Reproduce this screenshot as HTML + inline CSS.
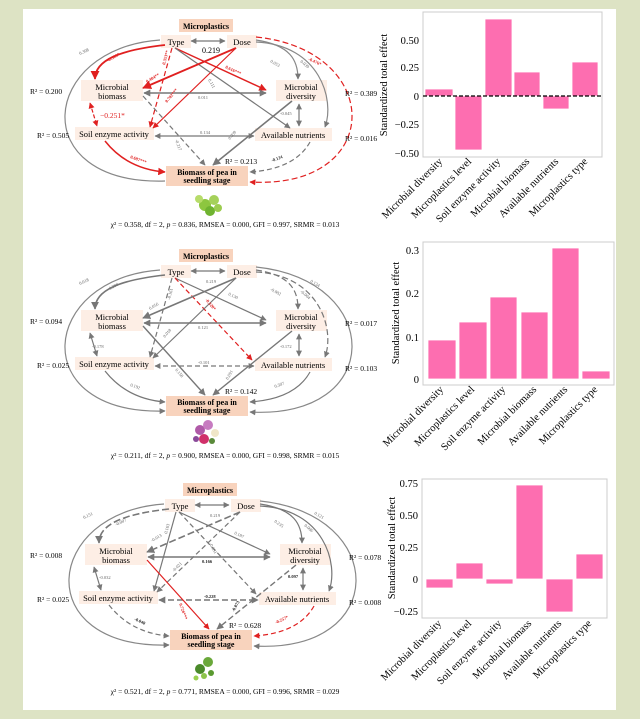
<!DOCTYPE html>
<html><head><meta charset="utf-8"><style>
body{margin:0;width:640px;height:719px;background:#dde3c4;overflow:hidden}
svg{display:block;font-family:"Liberation Serif",serif}
</style></head><body>
<svg width="640" height="719" viewBox="0 0 640 719">
<defs>
<marker id="g" viewBox="0 0 10 10" refX="9" refY="5" markerWidth="5" markerHeight="5" orient="auto-start-reverse"><path d="M0,0L10,5L0,10z" fill="#777"/></marker>
<marker id="r" viewBox="0 0 10 10" refX="9" refY="5" markerWidth="5" markerHeight="5" orient="auto-start-reverse"><path d="M0,0L10,5L0,10z" fill="#e02020"/></marker>
</defs>
<rect x="0" y="0" width="640" height="719" fill="#dde3c4"/>
<rect x="23" y="9" width="593" height="701" fill="#fff"/>

<!-- ========== Diagram 1 ========== -->
<g id="d1">
<rect x="179" y="19" width="54" height="13" fill="#f8d3bd"/>
<text x="206" y="29" font-size="8" font-weight="bold" text-anchor="middle">Microplastics</text>
<rect x="161" y="35" width="30" height="13" fill="#fdeee5"/><text x="176" y="45" font-size="8.5" text-anchor="middle">Type</text>
<rect x="227" y="35" width="30" height="13" fill="#fdeee5"/><text x="242" y="45" font-size="8.5" text-anchor="middle">Dose</text>
<rect x="81" y="80" width="62" height="21" fill="#fdeee5"/><text x="112" y="90" font-size="8.5" text-anchor="middle">Microbial</text><text x="112" y="99" font-size="8.5" text-anchor="middle">biomass</text>
<rect x="276" y="80" width="51" height="21" fill="#fdeee5"/><text x="301" y="90" font-size="8.5" text-anchor="middle">Microbial</text><text x="301" y="99" font-size="8.5" text-anchor="middle">diversity</text>
<rect x="75" y="127" width="79" height="13" fill="#fdeee5"/><text x="114" y="137" font-size="8.5" text-anchor="middle">Soil enzyme activity</text>
<rect x="255" y="128" width="77" height="13" fill="#fdeee5"/><text x="293" y="138" font-size="8.5" text-anchor="middle">Available nutrients</text>
<rect x="166" y="166" width="82" height="20" fill="#f8d3bd"/><text x="207" y="175" font-size="8" font-weight="bold" text-anchor="middle">Biomass of pea in</text><text x="207" y="183" font-size="8" font-weight="bold" text-anchor="middle">seedling stage</text>
<g fill="none" stroke-width="1.2">
<path d="M191,41H225" stroke="#777" marker-start="url(#g)" marker-end="url(#g)"/>
<path d="M160,40C40,48 25,185 165,181" stroke="#888"/>
<path d="M256,37C385,50 385,190 250,182" stroke="#e02020" stroke-dasharray="6,3" marker-end="url(#r)"/>
<path d="M256,42C320,45 335,100 325,127" stroke="#888" marker-end="url(#g)"/>
<path d="M256,40C290,45 298,60 298,79" stroke="#888" marker-end="url(#g)"/>
<path d="M165,45C120,50 95,60 95,79" stroke="#e02020" stroke-width="1.8" marker-end="url(#r)"/>
<path d="M172,48L150,127" stroke="#e02020" stroke-dasharray="5,3" marker-end="url(#r)"/>
<path d="M175,48L266,90" stroke="#e02020" stroke-width="1.5" marker-end="url(#r)"/>
<path d="M175,48L290,128" stroke="#777" marker-end="url(#g)"/>
<path d="M236,48L143,88" stroke="#e02020" stroke-width="1.8" marker-end="url(#r)"/>
<path d="M236,48L153,128" stroke="#e02020" marker-end="url(#r)"/>
<path d="M144,93H266" stroke="#777" stroke-width="1.4" marker-start="url(#g)" marker-end="url(#g)"/>
<path d="M90,103L97,126" stroke="#e02020" stroke-dasharray="4,2" marker-start="url(#r)" marker-end="url(#r)"/>
<path d="M299,104V126" stroke="#777" marker-start="url(#g)" marker-end="url(#g)"/>
<path d="M155,136H254" stroke="#777" marker-start="url(#g)" marker-end="url(#g)"/>
<path d="M143,96L205,165" stroke="#777" stroke-dasharray="5,3" marker-end="url(#g)"/>
<path d="M292,101L213,165" stroke="#777" stroke-width="1.6" marker-end="url(#g)"/>
<path d="M105,141C120,160 140,170 165,172" stroke="#e02020" stroke-width="1.5" marker-end="url(#r)"/>
<path d="M310,142C300,160 280,170 250,172" stroke="#777" stroke-dasharray="5,3" marker-end="url(#g)"/>
</g>
<text x="211" y="53" font-size="8" text-anchor="middle">0.219</text>
<text x="30" y="94" font-size="7.5">R² = 0.200</text>
<text x="37" y="138" font-size="7.5">R² = 0.505</text>
<text x="225" y="164" font-size="7.5">R² = 0.213</text>
<text x="345" y="96" font-size="7.5">R² = 0.389</text>
<text x="345" y="141" font-size="7.5">R² = 0.016</text>
<g font-size="4.5" fill="#e02020" font-weight="bold"><text x="108" y="62" transform="rotate(-30 108 62)">-0.303*</text><text x="165" y="65" transform="rotate(-75 165 65)">0.353**</text><text x="225" y="68" transform="rotate(25 225 68)">0.616***</text><text x="147" y="83" transform="rotate(-30 147 83)">0.404**</text><text x="167" y="103" transform="rotate(-50 167 103)">0.702***</text><text x="130" y="158" transform="rotate(20 130 158)">0.687***</text><text x="308" y="60" transform="rotate(25 308 60)">-0.476*</text></g>
<text x="100" y="118" font-size="7.5" fill="#e02020">−0.251*</text>
<g font-size="4.5" fill="#666"><text x="80" y="55" transform="rotate(-25 80 55)">0.308</text><text x="270" y="62" transform="rotate(30 270 62)">0.053</text><text x="300" y="62" transform="rotate(40 300 62)">0.039</text><text x="208" y="80" transform="rotate(60 208 80)">0.111</text><text x="198" y="99">0.011</text><text x="280" y="115">-0.045</text><text x="200" y="134">0.134</text><text x="175" y="140" transform="rotate(70 175 140)">-0.217</text><text x="230" y="140" transform="rotate(-50 230 140)">0.059</text><text x="272" y="162" font-weight="bold" fill="#333" transform="rotate(-20 272 162)">-0.124</text></g>
<g><circle cx="205" cy="205" r="6" fill="#8dc63f"/><circle cx="214" cy="200" r="5" fill="#a5d15a"/><circle cx="199" cy="199" r="4" fill="#b7dc6a"/><circle cx="210" cy="211" r="5" fill="#6fb330"/><circle cx="218" cy="208" r="4" fill="#9ccc4f"/></g>
<text x="225" y="227" font-size="7.5" text-anchor="middle">χ² = 0.358, df = 2, <tspan font-style="italic">p</tspan> = 0.836, RMSEA = 0.000, GFI = 0.997, SRMR = 0.013</text>
</g>

<!-- ========== Diagram 2 ========== -->
<g transform="translate(0,230)">
<rect x="179" y="19" width="54" height="13" fill="#f8d3bd"/>
<text x="206" y="29" font-size="8" font-weight="bold" text-anchor="middle">Microplastics</text>
<rect x="161" y="35" width="30" height="13" fill="#fdeee5"/><text x="176" y="45" font-size="8.5" text-anchor="middle">Type</text>
<rect x="227" y="35" width="30" height="13" fill="#fdeee5"/><text x="242" y="45" font-size="8.5" text-anchor="middle">Dose</text>
<rect x="81" y="80" width="62" height="21" fill="#fdeee5"/><text x="112" y="90" font-size="8.5" text-anchor="middle">Microbial</text><text x="112" y="99" font-size="8.5" text-anchor="middle">biomass</text>
<rect x="276" y="80" width="51" height="21" fill="#fdeee5"/><text x="301" y="90" font-size="8.5" text-anchor="middle">Microbial</text><text x="301" y="99" font-size="8.5" text-anchor="middle">diversity</text>
<rect x="75" y="127" width="79" height="13" fill="#fdeee5"/><text x="114" y="137" font-size="8.5" text-anchor="middle">Soil enzyme activity</text>
<rect x="255" y="128" width="77" height="13" fill="#fdeee5"/><text x="293" y="138" font-size="8.5" text-anchor="middle">Available nutrients</text>
<rect x="166" y="166" width="82" height="20" fill="#f8d3bd"/><text x="207" y="175" font-size="8" font-weight="bold" text-anchor="middle">Biomass of pea in</text><text x="207" y="183" font-size="8" font-weight="bold" text-anchor="middle">seedling stage</text>
<g fill="none" stroke-width="1.2" stroke="#777">
<path d="M191,41H225" marker-start="url(#g)" marker-end="url(#g)"/>
<path d="M160,40C40,48 25,185 165,181" stroke="#888" marker-end="url(#g)"/>
<path d="M256,37C385,50 385,190 250,182" stroke="#888" marker-end="url(#g)"/>
<path d="M256,42C320,45 335,100 325,127" stroke-dasharray="6,3" marker-end="url(#g)"/>
<path d="M256,40C290,45 298,60 298,79" stroke-dasharray="6,3" marker-end="url(#g)"/>
<path d="M165,45C120,50 95,60 95,79" stroke-width="1.6" marker-end="url(#g)"/>
<path d="M172,48L150,127" stroke-dasharray="5,3" marker-end="url(#g)"/>
<path d="M175,48L266,90" marker-end="url(#g)"/>
<path d="M175,48L252,130" stroke="#e02020" stroke-dasharray="5,3" marker-end="url(#r)"/>
<path d="M236,48L143,88" stroke-width="1.6" marker-end="url(#g)"/>
<path d="M236,48L153,128" marker-end="url(#g)"/>
<path d="M144,93H266" stroke-width="1.4" marker-start="url(#g)" marker-end="url(#g)"/>
<path d="M90,103L97,126" marker-start="url(#g)" marker-end="url(#g)"/>
<path d="M299,104V126" marker-start="url(#g)" marker-end="url(#g)"/>
<path d="M155,136H254" stroke-dasharray="5,3" marker-start="url(#g)" marker-end="url(#g)"/>
<path d="M143,96L205,165" stroke-width="1.4" marker-end="url(#g)"/>
<path d="M292,101L213,165" stroke-width="1.4" marker-end="url(#g)"/>
<path d="M105,141C120,160 140,170 165,172" marker-end="url(#g)"/>
<path d="M310,142C300,160 280,170 250,172" marker-end="url(#g)"/>
</g>
<text x="211" y="53" font-size="4.5" fill="#666" text-anchor="middle">0.219</text>
<text x="30" y="94" font-size="7.5">R² = 0.094</text>
<text x="37" y="138" font-size="7.5">R² = 0.025</text>
<text x="225" y="164" font-size="7.5">R² = 0.142</text>
<text x="345" y="96" font-size="7.5">R² = 0.017</text>
<text x="345" y="141" font-size="7.5">R² = 0.103</text>
<text x="205" y="70" font-size="4.5" fill="#e02020" font-weight="bold" transform="rotate(50 205 70)">-0.320*</text>
<g font-size="4.5" fill="#666"><text x="80" y="55" transform="rotate(-25 80 55)">0.018</text><text x="110" y="60" transform="rotate(-30 110 60)">0.290</text><text x="170" y="70" transform="rotate(-75 170 70)">-0.161</text><text x="228" y="65" transform="rotate(25 228 65)">0.130</text><text x="150" y="80" transform="rotate(-30 150 80)">0.056</text><text x="165" y="108" transform="rotate(-50 165 108)">0.018</text><text x="270" y="60" transform="rotate(30 270 60)">-0.002</text><text x="300" y="62" transform="rotate(40 300 62)">-0.004</text><text x="310" y="52" transform="rotate(30 310 52)">0.134</text><text x="198" y="99">0.121</text><text x="92" y="118">-0.178</text><text x="280" y="118">-0.172</text><text x="198" y="134">-0.101</text><text x="175" y="140" transform="rotate(50 175 140)">0.158</text><text x="228" y="150" transform="rotate(-60 228 150)">0.091</text><text x="130" y="156" transform="rotate(20 130 156)">0.192</text><text x="275" y="158" transform="rotate(-20 275 158)">0.307</text></g>
<g><circle cx="200" cy="200" r="5" fill="#b05aa8"/><circle cx="208" cy="195" r="5" fill="#c77bc0"/><circle cx="215" cy="203" r="4" fill="#f0e6c8"/><circle cx="204" cy="209" r="5" fill="#d0306a"/><circle cx="212" cy="211" r="3" fill="#5a8a3a"/><circle cx="196" cy="209" r="3" fill="#8a4a9a"/></g>
<text x="225" y="228" font-size="7.5" text-anchor="middle">χ² = 0.211, df = 2, <tspan font-style="italic">p</tspan> = 0.900, RMSEA = 0.000, GFI = 0.998, SRMR = 0.015</text>
</g>

<!-- ========== Diagram 3 ========== -->
<g transform="translate(4,464)">
<rect x="179" y="19" width="54" height="13" fill="#f8d3bd"/>
<text x="206" y="29" font-size="8" font-weight="bold" text-anchor="middle">Microplastics</text>
<rect x="161" y="35" width="30" height="13" fill="#fdeee5"/><text x="176" y="45" font-size="8.5" text-anchor="middle">Type</text>
<rect x="227" y="35" width="30" height="13" fill="#fdeee5"/><text x="242" y="45" font-size="8.5" text-anchor="middle">Dose</text>
<rect x="81" y="80" width="62" height="21" fill="#fdeee5"/><text x="112" y="90" font-size="8.5" text-anchor="middle">Microbial</text><text x="112" y="99" font-size="8.5" text-anchor="middle">biomass</text>
<rect x="276" y="80" width="51" height="21" fill="#fdeee5"/><text x="301" y="90" font-size="8.5" text-anchor="middle">Microbial</text><text x="301" y="99" font-size="8.5" text-anchor="middle">diversity</text>
<rect x="75" y="127" width="79" height="13" fill="#fdeee5"/><text x="114" y="137" font-size="8.5" text-anchor="middle">Soil enzyme activity</text>
<rect x="255" y="128" width="77" height="13" fill="#fdeee5"/><text x="293" y="138" font-size="8.5" text-anchor="middle">Available nutrients</text>
<rect x="166" y="166" width="82" height="20" fill="#f8d3bd"/><text x="207" y="175" font-size="8" font-weight="bold" text-anchor="middle">Biomass of pea in</text><text x="207" y="183" font-size="8" font-weight="bold" text-anchor="middle">seedling stage</text>
<g fill="none" stroke-width="1.2" stroke="#777">
<path d="M191,41H225" marker-start="url(#g)" marker-end="url(#g)"/>
<path d="M160,40C40,48 25,185 165,181" stroke="#888" marker-end="url(#g)"/>
<path d="M256,37C385,50 385,190 250,182" stroke="#888" marker-end="url(#g)"/>
<path d="M256,42C320,45 335,100 325,127" marker-end="url(#g)"/>
<path d="M256,40C290,45 298,60 298,79" marker-end="url(#g)"/>
<path d="M165,45C120,50 95,60 95,79" stroke-dasharray="7,3" stroke-width="1.6" marker-end="url(#g)"/>
<path d="M172,48L150,127" marker-end="url(#g)"/>
<path d="M175,48L266,90" marker-end="url(#g)"/>
<path d="M175,48L252,130" stroke-dasharray="5,3" marker-end="url(#g)"/>
<path d="M236,48L143,88" stroke-dasharray="7,3" stroke-width="1.6" marker-end="url(#g)"/>
<path d="M236,48L153,128" stroke-dasharray="5,3" marker-end="url(#g)"/>
<path d="M144,93H266" stroke-width="1.4" marker-start="url(#g)" marker-end="url(#g)"/>
<path d="M90,103L97,126" marker-start="url(#g)" marker-end="url(#g)"/>
<path d="M299,104V126" marker-start="url(#g)" marker-end="url(#g)"/>
<path d="M155,136H254" stroke-dasharray="6,3" stroke-width="1.4" marker-start="url(#g)" marker-end="url(#g)"/>
<path d="M143,96L205,165" stroke="#e02020" marker-end="url(#r)"/>
<path d="M292,101L213,165" stroke-dasharray="6,3" stroke-width="1.4" marker-end="url(#g)"/>
<path d="M105,141C120,160 140,170 165,172" stroke-dasharray="5,3" marker-end="url(#g)"/>
<path d="M310,142C300,160 280,170 250,172" stroke="#e02020" stroke-dasharray="5,3" marker-end="url(#r)"/>
</g>
<text x="211" y="53" font-size="4.5" fill="#666" text-anchor="middle">0.219</text>
<text x="26" y="94" font-size="7.5">R² = 0.008</text>
<text x="33" y="138" font-size="7.5">R² = 0.025</text>
<text x="225" y="164" font-size="7.5">R² = 0.628</text>
<text x="345" y="96" font-size="7.5">R² = 0.078</text>
<text x="345" y="141" font-size="7.5">R² = 0.008</text>
<g font-size="4.5" fill="#e02020" font-weight="bold"><text x="175" y="140" transform="rotate(70 175 140)">0.726***</text><text x="272" y="160" transform="rotate(-25 272 160)">-0.257*</text></g>
<g font-size="4.5" fill="#666"><text x="80" y="55" transform="rotate(-25 80 55)">0.151</text><text x="112" y="62" transform="rotate(-25 112 62)">-0.007</text><text x="163" y="70" transform="rotate(-75 163 70)">0.163</text><text x="230" y="70" transform="rotate(25 230 70)">0.187</text><text x="148" y="78" transform="rotate(-30 148 78)">-0.013</text><text x="205" y="80" transform="rotate(60 205 80)">-0.091</text><text x="170" y="108" transform="rotate(-45 170 108)">-0.021</text><text x="270" y="58" transform="rotate(35 270 58)">0.235</text><text x="300" y="62" transform="rotate(40 300 62)">0.006</text><text x="310" y="50" transform="rotate(30 310 50)">0.121</text><text x="198" y="99" font-weight="bold" fill="#222">0.166</text><text x="95" y="115">-0.032</text><text x="284" y="114" font-weight="bold" fill="#222">0.097</text><text x="200" y="134" font-weight="bold" fill="#222">-0.228</text><text x="230" y="148" font-weight="bold" fill="#222" transform="rotate(-60 230 148)">-0.073</text><text x="130" y="156" font-weight="bold" fill="#222" transform="rotate(25 130 156)">-0.040</text></g>
<g><circle cx="196" cy="205" r="5" fill="#4a8a2a"/><circle cx="204" cy="198" r="5" fill="#6aa83a"/><circle cx="200" cy="212" r="3" fill="#8cc44a"/><circle cx="192" cy="214" r="2.5" fill="#9ad04f"/><circle cx="207" cy="209" r="3" fill="#5a9a30"/></g>
<text x="221" y="230" font-size="7.5" text-anchor="middle">χ² = 0.521, df = 2, <tspan font-style="italic">p</tspan> = 0.771, RMSEA = 0.000, GFI = 0.996, SRMR = 0.029</text>
</g>

<!-- ========== Bar chart 1 ========== -->
<g font-size="10.5">
<rect x="423" y="12" width="179" height="145" fill="#fff" stroke="#ccc"/>
<g fill="#fd6eb0" stroke="#fff" stroke-width="0.8">
<rect x="425" y="89" width="28" height="7"/><rect x="455" y="96" width="27" height="54"/><rect x="485" y="19" width="27" height="77"/><rect x="514" y="72" width="26" height="24"/><rect x="543" y="96" width="26" height="13"/><rect x="572" y="62" width="26" height="34"/>
</g>
<line x1="423" y1="96" x2="602" y2="96" stroke="#000" stroke-width="1.3" stroke-dasharray="4,2"/>
<g text-anchor="end"><text x="419" y="44">0.50</text><text x="419" y="71">0.25</text><text x="419" y="100">0</text><text x="419" y="128">−0.25</text><text x="419" y="157">−0.50</text></g>
<text transform="translate(387,85) rotate(-90)" text-anchor="middle">Standardized total effect</text>
<g text-anchor="end"><text transform="translate(443,162) rotate(-45)">Microbial diversity</text><text transform="translate(472,162) rotate(-45)">Microplastics level</text><text transform="translate(501,162) rotate(-45)">Soil enzyme activity</text><text transform="translate(530,162) rotate(-45)">Microbial biomass</text><text transform="translate(559,162) rotate(-45)">Available nutrients</text><text transform="translate(588,162) rotate(-45)">Microplastics type</text></g>
</g>

<!-- ========== Bar chart 2 ========== -->
<g font-size="10.5">
<rect x="423" y="242" width="191" height="143" fill="#fff" stroke="#ccc"/>
<g fill="#fd6eb0" stroke="#fff" stroke-width="0.8">
<rect x="428" y="340" width="28" height="39"/><rect x="459" y="322" width="28" height="57"/><rect x="490" y="297" width="27" height="82"/><rect x="521" y="312" width="27" height="67"/><rect x="552" y="248" width="27" height="131"/><rect x="582" y="371" width="28" height="8"/>
</g>
<g text-anchor="end"><text x="419" y="254">0.3</text><text x="419" y="297">0.2</text><text x="419" y="341">0.1</text><text x="419" y="383">0</text></g>
<text transform="translate(399,313) rotate(-90)" text-anchor="middle">Standardized total effect</text>
<g text-anchor="end"><text transform="translate(444,390) rotate(-45)">Microbial diversity</text><text transform="translate(475,390) rotate(-45)">Microplastics level</text><text transform="translate(506,390) rotate(-45)">Soil enzyme activity</text><text transform="translate(537,390) rotate(-45)">Microbial biomass</text><text transform="translate(568,390) rotate(-45)">Available nutrients</text><text transform="translate(598,390) rotate(-45)">Microplastics type</text></g>
</g>

<!-- ========== Bar chart 3 ========== -->
<g font-size="10.5">
<rect x="422" y="479" width="185" height="139" fill="#fff" stroke="#ccc"/>
<g fill="#fd6eb0" stroke="#fff" stroke-width="0.8">
<rect x="426" y="579" width="27" height="9"/><rect x="456" y="563" width="27" height="16"/><rect x="486" y="579" width="27" height="5"/><rect x="516" y="485" width="27" height="94"/><rect x="546" y="579" width="27" height="33"/><rect x="576" y="554" width="27" height="25"/>
</g>
<g text-anchor="end"><text x="418" y="487">0.75</text><text x="418" y="519">0.50</text><text x="418" y="551">0.25</text><text x="418" y="583">0</text><text x="418" y="615">−0.25</text></g>
<text transform="translate(395,548) rotate(-90)" text-anchor="middle">Standardized total effect</text>
<g text-anchor="end"><text transform="translate(442,624) rotate(-45)">Microbial diversity</text><text transform="translate(472,624) rotate(-45)">Microplastics level</text><text transform="translate(502,624) rotate(-45)">Soil enzyme activity</text><text transform="translate(532,624) rotate(-45)">Microbial biomass</text><text transform="translate(562,624) rotate(-45)">Available nutrients</text><text transform="translate(592,624) rotate(-45)">Microplastics type</text></g>
</g>
</svg>
</body></html>
